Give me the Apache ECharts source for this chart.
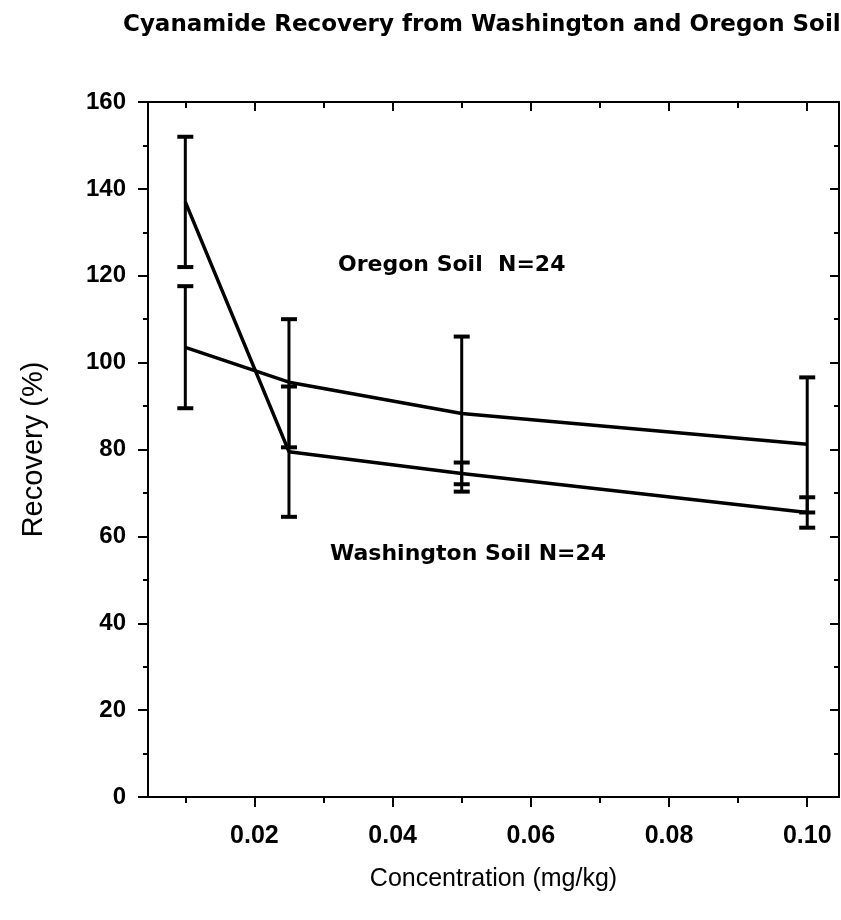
<!DOCTYPE html>
<html>
<head>
<meta charset="utf-8">
<script src="https://cdn.jsdelivr.net/npm/echarts@6/dist/echarts.min.js"></script>
<style>
  html, body { margin: 0; padding: 0; background: #fff; }
  #chart { width: 841px; height: 920px; }
</style>
</head>
<body>
<div id="chart"></div>
<script>
// ---- data ----
const concentrations = [0.01, 0.025, 0.05, 0.10];
const washingtonMean = [137, 79.5, 74.5, 65.5];
const washingtonLow  = [122, 64.5, 72, 62];
const washingtonHigh = [152, 94.5, 77, 69];
const oregonMean = [103.5, 95.5, 88.3, 81.2];
const oregonLow  = [89.5, 80.5, 70.3, 65.5];
const oregonHigh = [117.6, 110, 106, 96.6];
const xMajorTicks = [0.02, 0.04, 0.06, 0.08, 0.10];
const xMinorTicks = [0.01, 0.03, 0.05, 0.07, 0.09];
const titleText = 'Cyanamide Recovery from Washington and Oregon Soil';
const xName = 'Concentration (mg/kg)';
const yName = 'Recovery (%)';
const oregonLabel = 'Oregon Soil  N=24';
const washingtonLabel = 'Washington Soil N=24';

const X_MIN = 0.0046, X_MAX = 0.1046;
const AX = { color: '#000', width: 2 };

const chart = echarts.init(document.getElementById('chart'), null, { renderer: 'canvas' });

function errRender(params, api) {
  const x = api.value(0);
  const lo = api.coord([x, api.value(1)]);
  const hi = api.coord([x, api.value(2)]);
  const cw = 8;
  const cap = { stroke: '#000', lineWidth: 4 };
  return {
    type: 'group',
    children: [
      { type: 'line', shape: { x1: lo[0], y1: lo[1], x2: hi[0], y2: hi[1] }, style: { stroke: '#000', lineWidth: 3 } },
      { type: 'line', shape: { x1: lo[0] - cw, y1: lo[1], x2: lo[0] + cw, y2: lo[1] }, style: cap },
      { type: 'line', shape: { x1: hi[0] - cw, y1: hi[1], x2: hi[0] + cw, y2: hi[1] }, style: cap }
    ]
  };
}

function xAxisBase(pos, ticks, len, inside, showLine) {
  return {
    type: 'value', min: X_MIN, max: X_MAX, position: pos,
    axisLine: { show: showLine, onZero: false, lineStyle: AX },
    axisTick: { show: true, customValues: ticks, length: len, inside: inside, lineStyle: AX },
    axisLabel: { show: false },
    splitLine: { show: false }
  };
}

const xMain = xAxisBase('bottom', xMajorTicks, 10, false, true);
xMain.axisLabel = {
  show: true, customValues: xMajorTicks, margin: 27,
  formatter: v => v.toFixed(2),
  fontFamily: 'Liberation Sans', fontWeight: 'bold', fontSize: 25, color: '#000'
};
xMain.name = xName;
xMain.nameLocation = 'middle';
xMain.nameGap = 70;
xMain.nameTextStyle = { fontFamily: 'Liberation Sans', fontSize: 25, color: '#000' };

const option = {
  backgroundColor: '#fff',
  animation: false,
  title: {
    text: titleText, left: 118, top: 9,
    textStyle: { fontFamily: 'DejaVu Sans', fontWeight: 'bold', fontSize: 23, color: '#000' }
  },
  grid: { left: 148, right: 2, top: 102, bottom: 123, containLabel: false },
  xAxis: [
    xMain,
    xAxisBase('bottom', xMinorTicks, 6, false, false),
    xAxisBase('top', xMajorTicks, 9, true, true),
    xAxisBase('top', xMinorTicks, 6, true, false)
  ],
  yAxis: [
    {
      type: 'value', min: 0, max: 160, interval: 20, position: 'left',
      axisLine: { show: true, onZero: false, lineStyle: AX },
      axisTick: { show: true, length: 10, lineStyle: AX },
      minorTick: { show: true, splitNumber: 2, length: 5, lineStyle: AX },
      axisLabel: { margin: 22, fontFamily: 'Liberation Sans', fontWeight: 'bold', fontSize: 24, color: '#000' },
      splitLine: { show: false },
      name: yName, nameLocation: 'middle', nameGap: 100, nameRotate: 90,
      nameTextStyle: { fontFamily: 'Liberation Sans', fontSize: 29, color: '#000' }
    },
    {
      type: 'value', min: 0, max: 160, interval: 20, position: 'right',
      axisLine: { show: true, onZero: false, lineStyle: AX },
      axisTick: { show: true, inside: true, length: 9, lineStyle: AX },
      minorTick: { show: true, splitNumber: 2, length: 5, lineStyle: AX },
      axisLabel: { show: false },
      splitLine: { show: false }
    }
  ],
  graphic: [
    { type: 'text', left: 338, top: 254, style: { text: oregonLabel, font: 'bold 22px "DejaVu Sans"', fill: '#000' } },
    { type: 'text', left: 330, top: 543, style: { text: washingtonLabel, font: 'bold 22px "DejaVu Sans"', fill: '#000' } }
  ],
  series: [
    {
      name: 'Washington Soil', type: 'line', symbol: 'none', xAxisIndex: 0, yAxisIndex: 0,
      lineStyle: { color: '#000', width: 3.5 },
      data: concentrations.map((c, i) => [c, washingtonMean[i]])
    },
    {
      name: 'Oregon Soil', type: 'line', symbol: 'none', xAxisIndex: 0, yAxisIndex: 0,
      lineStyle: { color: '#000', width: 3.5 },
      data: concentrations.map((c, i) => [c, oregonMean[i]])
    },
    {
      name: 'Washington err', type: 'custom', xAxisIndex: 0, yAxisIndex: 0,
      renderItem: errRender, encode: { x: 0, y: [1, 2] },
      data: concentrations.map((c, i) => [c, washingtonLow[i], washingtonHigh[i]])
    },
    {
      name: 'Oregon err', type: 'custom', xAxisIndex: 0, yAxisIndex: 0,
      renderItem: errRender, encode: { x: 0, y: [1, 2] },
      data: concentrations.map((c, i) => [c, oregonLow[i], oregonHigh[i]])
    }
  ]
};
chart.setOption(option);
</script>
</body>
</html>
